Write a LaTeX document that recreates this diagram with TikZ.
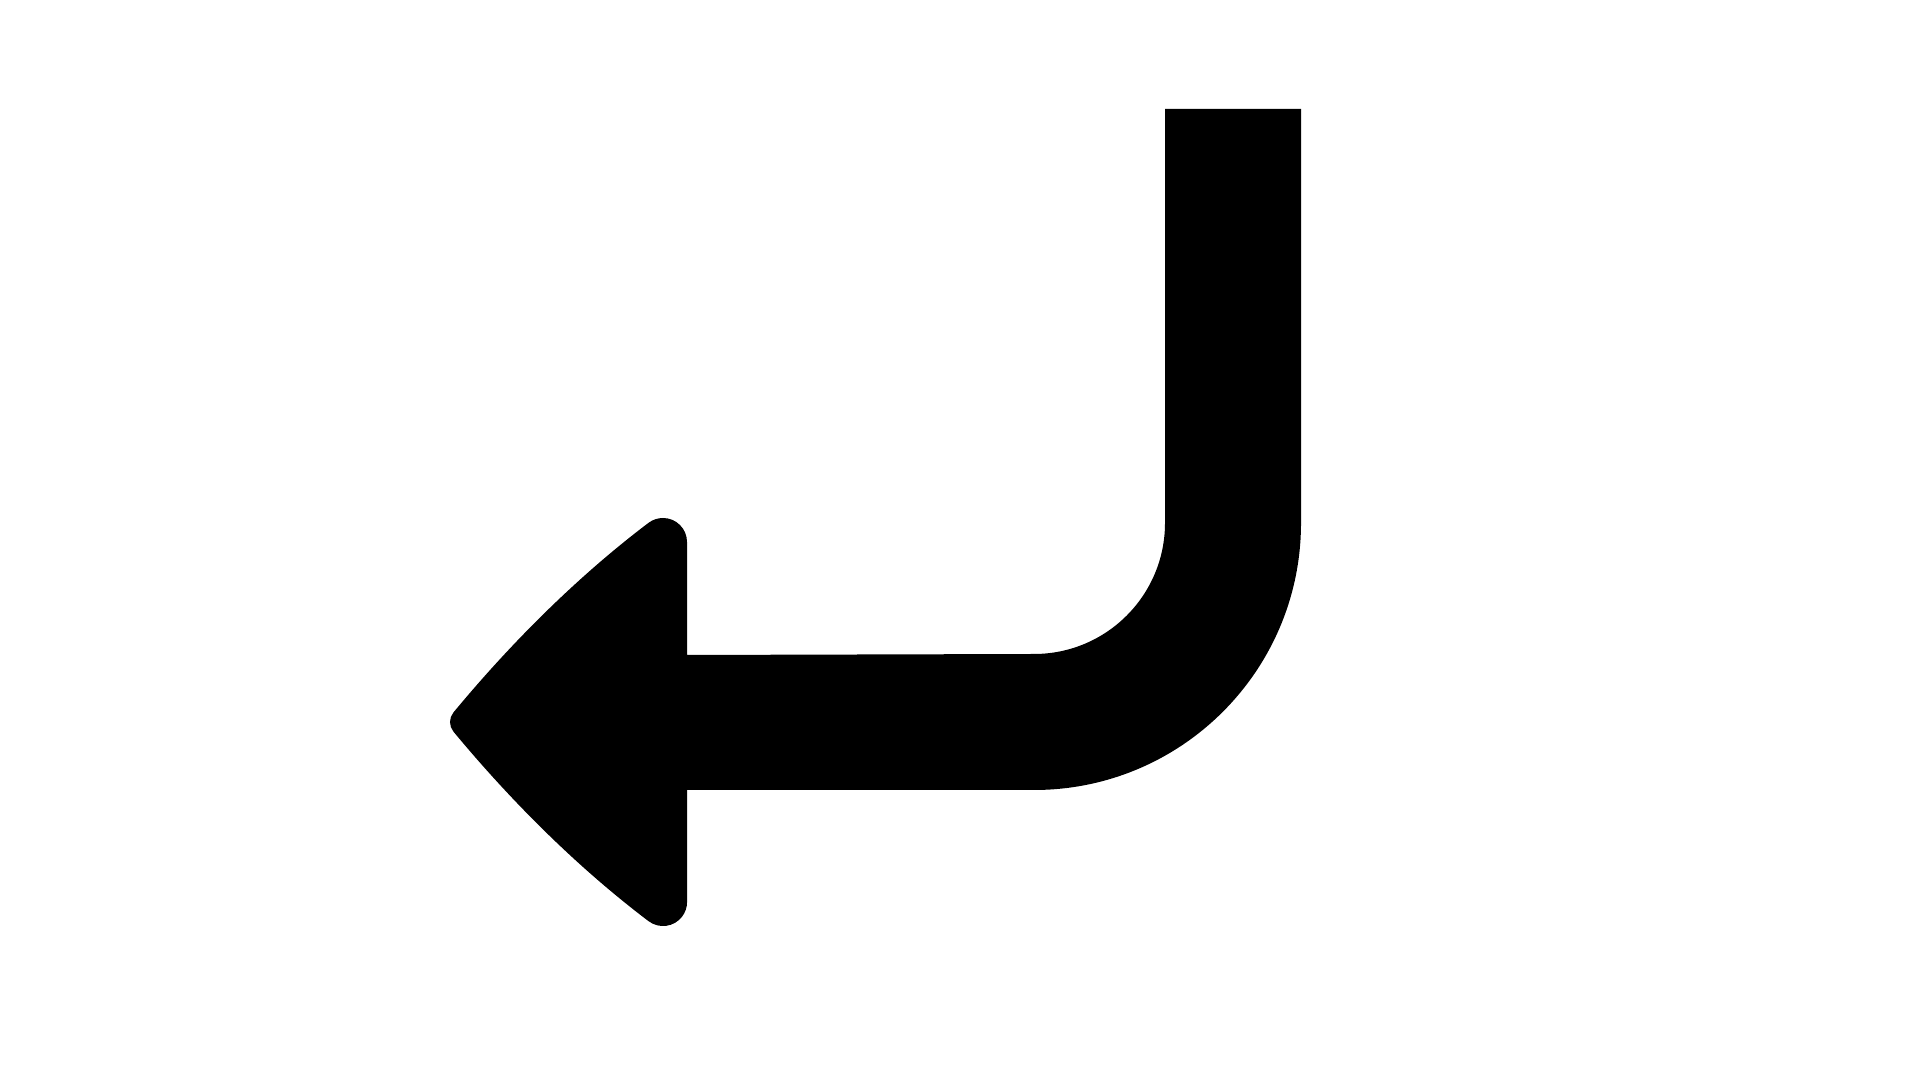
\documentclass[tikz,border=0pt]{standalone}
\usepackage{tikz}
\usetikzlibrary{positioning}
\begin{document}
\begin{tikzpicture}
                    [shaft/.style={fill=black, draw=none}]

                    \useasboundingbox (0,0) rectangle (19.2,10.8);

                    % bent shaft and head, one outline
                    \fill[shaft]
                        (11.65,9.71) -- (11.65,5.57)
                        arc (0:-90:1.31) -- (6.87,4.25)
                        -- (6.87,5.38) arc (0:127:0.24)
                        .. controls (5.77,5.03) and (5.11,4.37) .. (4.535,3.676)
                        arc (140:220:0.15)
                        .. controls (5.11,2.79) and (5.77,2.13) .. (6.486,1.588)
                        arc (-127:0:0.24)
                        -- (6.87,2.90) -- (10.34,2.90)
                        arc (-90:0:2.67) -- (13.01,9.71) -- cycle;
                \end{tikzpicture}
\end{document}
